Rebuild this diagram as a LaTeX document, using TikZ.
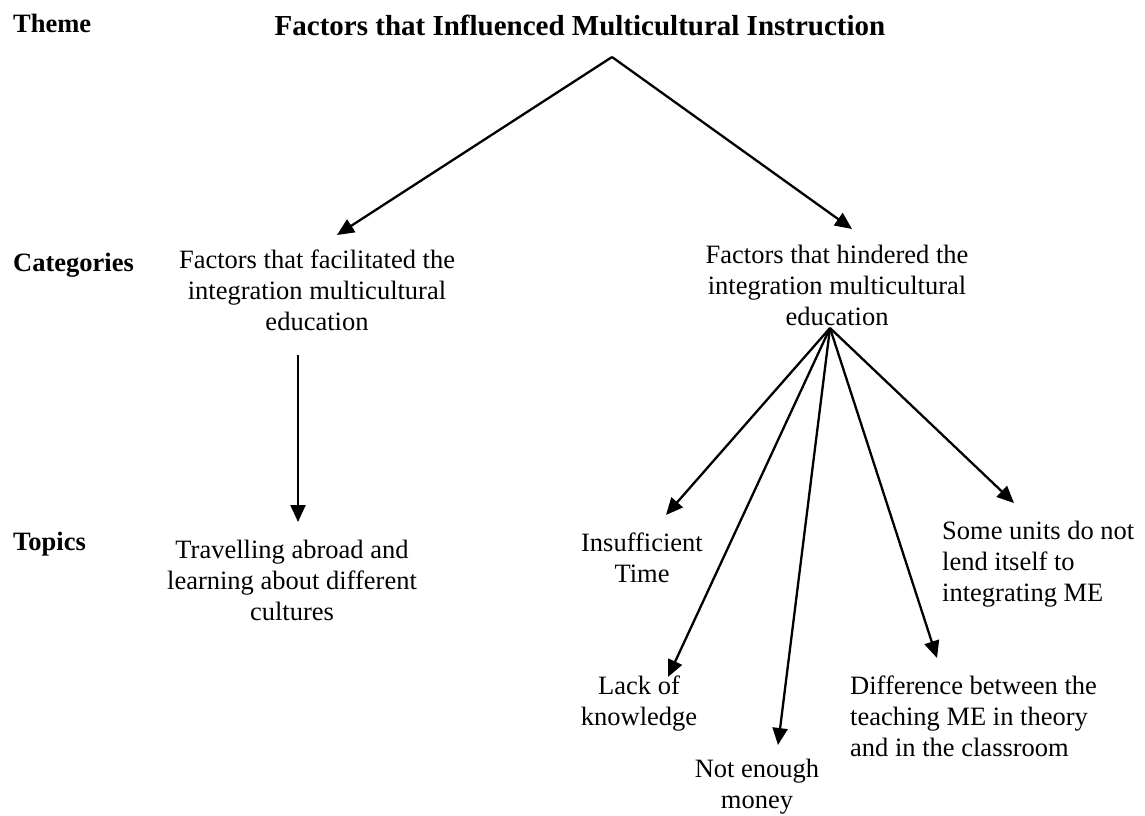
\documentclass[tikz,border=0pt]{standalone}
\usepackage{fontspec}
\setmainfont{Liberation Serif}
\usetikzlibrary{arrows.meta}
\begin{document}
\begin{tikzpicture}[x=1pt,y=-1pt,
  txt/.style={inner sep=0pt, align=center, anchor=base, font=\fontsize{26.5}{31}\selectfont},
  ltxt/.style={inner sep=0pt, align=left, anchor=base west, font=\fontsize{26.5}{31}\selectfont},
  lbl/.style={inner sep=0pt, anchor=base west, font=\fontsize{26.5}{31}\selectfont\bfseries},
  ttl/.style={inner sep=0pt, anchor=base, font=\fontsize{29}{31}\selectfont\bfseries},
  arr/.style={-{Triangle[length=17pt,width=15pt]}, line width=2.3pt}]
\useasboundingbox (0,0) rectangle (1145,815);
% row labels
\node[lbl] (theme) at (13,32) {Theme};
\node[lbl] (cats) at (13,271) {Categories};
\node[lbl] (tops) at (13,550) {Topics};
% title
\node[ttl] (title) at (580,35) {Factors that Influenced Multicultural Instruction};
% categories (base = last line)
\node[txt] (facil) at (317,330) {Factors that facilitated the\\integration multicultural\\education};
\node[txt] (hind) at (837,325) {Factors that hindered the\\integration multicultural\\education};
% topics
\node[txt] (trav) at (292,620) {Travelling abroad and\\learning about different\\cultures};
\node[txt] (insuf) at (642,582) {Insufficient\\Time};
\node[txt] (lack) at (639,725) {Lack of\\knowledge};
\node[txt] (money) at (757,808) {Not enough\\money};
\node[ltxt] (diff) at (850,756) {Difference between the\\teaching ME in theory\\and in the classroom};
\node[ltxt] (some) at (942,601) {Some units do not\\lend itself to\\integrating ME};
% connector points
\coordinate (apex) at (612,57);
\coordinate (tipfacil) at (337,235);
\coordinate (tiphind) at (852,229);
\coordinate (facilout) at (298,355);
\coordinate (tiptrav) at (298,522);
\coordinate (hub) at (830,328);
\coordinate (tipinsuf) at (666,515);
\coordinate (tiplack) at (668,677);
\coordinate (tipmoney) at (778,745);
\coordinate (tipdiff) at (937,658);
\coordinate (tipsome) at (1014,503);
% connectors
\draw[arr] (apex) -- (tipfacil);
\draw[arr] (apex) -- (tiphind);
\draw[arr] (facilout) -- (tiptrav);
\draw[arr] (hub) -- (tipinsuf);
\draw[arr] (hub) -- (tiplack);
\draw[arr] (hub) -- (tipmoney);
\draw[arr] (hub) -- (tipdiff);
\draw[arr] (hub) -- (tipsome);
\end{tikzpicture}
\end{document}
